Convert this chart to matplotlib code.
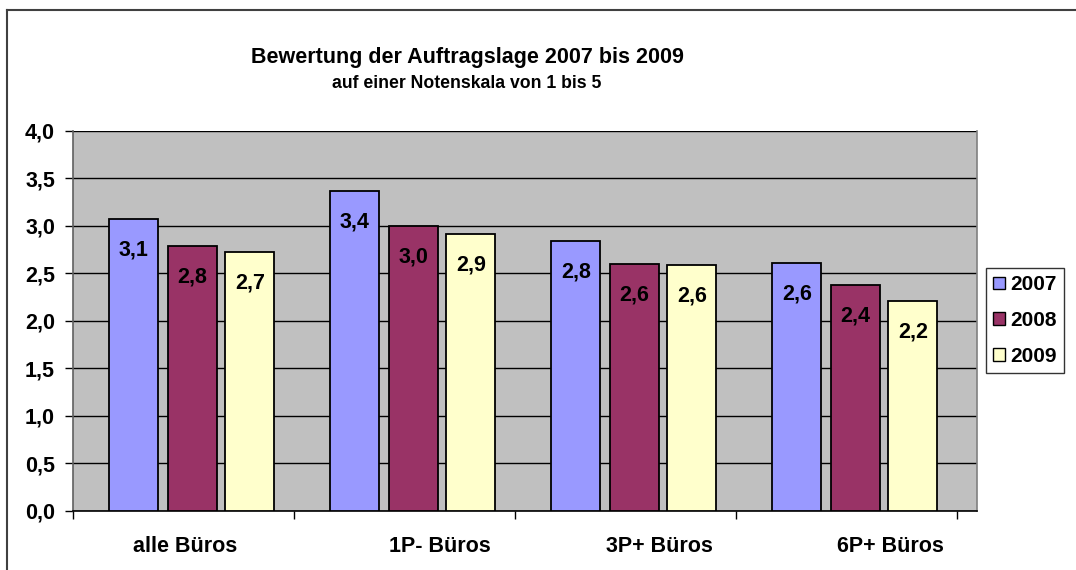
import matplotlib

matplotlib.use("Agg")
import matplotlib.pyplot as plt  # noqa: E402
import numpy as np  # noqa: E402
from matplotlib.lines import Line2D  # noqa: E402
from matplotlib.patches import Patch  # noqa: E402

# ---- data ----
categories = ["alle Büros", "1P- Büros", "3P+ Büros", "6P+ Büros"]
years = ["2007", "2008", "2009"]
v2007 = [3.07, 3.37, 2.84, 2.61]
v2008 = [2.79, 3.00, 2.60, 2.38]
v2009 = [2.72, 2.91, 2.59, 2.21]
series = [v2007, v2008, v2009]
yticks = [0.0, 0.5, 1.0, 1.5, 2.0, 2.5, 3.0, 3.5, 4.0]

colors = ["#9999FF", "#993366", "#FFFFCC"]
# bar offsets within a category slot (Excel puts them slightly right of centre)
offsets = [-0.225, 0.04, 0.30]
label_shift = [0.507, 1.66, 2.655, 3.697]
bar_w = 0.222

plt.rcParams["font.family"] = ["Liberation Sans", "DejaVu Sans"]
plt.rcParams["font.weight"] = "bold"

fig = plt.figure(figsize=(10.76, 5.70), dpi=100)
ax = fig.add_axes([73 / 1076, (570 - 510.5) / 570, 904 / 1076, 379.5 / 570])
ax.set_facecolor("#C0C0C0")

centers = np.arange(len(categories)) + 0.5
for vals, col, off in zip(series, colors, offsets):
    xs = centers + off
    ax.bar(xs, vals, width=bar_w, color=col, edgecolor="black", linewidth=1.3, zorder=3)
    for x, v in zip(xs, vals):
        ax.annotate(f"{v:.1f}".replace(".", ","), (x, v), xytext=(0, -31),
                    textcoords="offset pixels",
                    ha="center", va="center", fontsize=15.5, fontweight="bold", zorder=4)

ax.set_ylim(0, 4.0)
ax.set_xlim(0, 904 / 221)
ax.set_yticks(yticks)
ax.set_yticklabels([f"{t:.1f}".replace(".", ",") for t in yticks], fontsize=15.5, fontweight="bold")
ax.yaxis.grid(True, color="black", linewidth=1.0, zorder=1)
ax.set_axisbelow(True)

# category boundaries get tick marks, labels sit between them
ax.set_xticks(np.arange(0, len(categories) + 1), minor=True)
ax.set_xticks(label_shift)
ax.set_xticklabels(categories, fontsize=15.5, fontweight="bold")
ax.tick_params(axis="x", which="major", length=0, pad=18)
ax.tick_params(axis="x", which="minor", length=6, width=1, direction="out")
ax.tick_params(axis="y", length=6, width=1, direction="out", pad=7)

ax.spines["top"].set_visible(False)
ax.spines["left"].set_color("#606060")
ax.spines["right"].set_color("#808080")
ax.spines["bottom"].set_color("black")
for s in ax.spines.values():
    s.set_linewidth(1.2)

fig.text(467 / 1076, 1 - 57 / 570, "Bewertung der Auftragslage 2007 bis 2009",
         ha="center", va="center", fontsize=15.5, fontweight="bold")
fig.text(467 / 1076, 1 - 84 / 570, "auf einer Notenskala von 1 bis 5",
         ha="center", va="center", fontsize=12.7, fontweight="bold")

handles = [Patch(facecolor=c, edgecolor="black", linewidth=1) for c in colors]
leg = fig.legend(handles, years, loc="upper left",
                 bbox_to_anchor=(986 / 1076, 1 - 268 / 570),
                 fontsize=15, frameon=True, fancybox=False, borderpad=0.35,
                 handlelength=0.55, handleheight=0.55, handletextpad=0.25,
                 labelspacing=0.8, borderaxespad=0)
leg.get_frame().set_edgecolor("black")
leg.get_frame().set_linewidth(1.0)
for t in leg.get_texts():
    t.set_fontweight("bold")

# outer chart frame (left and top edges visible)
fig.add_artist(Line2D([7 / 1076, 7 / 1076], [0, 1 - 9.5 / 570], transform=fig.transFigure,
                      color="#404040", linewidth=1.5))
fig.add_artist(Line2D([7 / 1076, 1], [1 - 9.5 / 570, 1 - 9.5 / 570], transform=fig.transFigure,
                      color="#404040", linewidth=1.5))

fig.savefig("out.png", dpi=100, facecolor="white")
